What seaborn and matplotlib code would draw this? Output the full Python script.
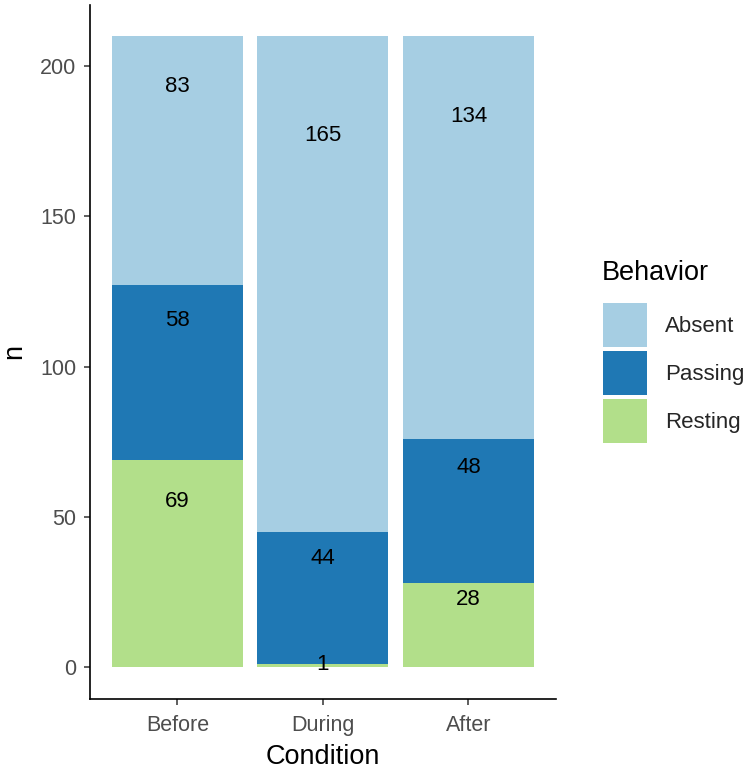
import matplotlib

matplotlib.use("Agg")
import matplotlib.pyplot as plt
import numpy as np
import pandas as pd
import seaborn as sns
from matplotlib.patches import Patch

# ---- data ----
conditions = ["Before", "During", "After"]
behaviors = ["Absent", "Passing", "Resting"]
absent_n = [83, 165, 134]
passing_n = [58, 44, 48]
resting_n = [69, 1, 28]
colors = ["#A6CEE3", "#1F78B4", "#B2DF8A"]

df = pd.DataFrame(
    {
        "Condition": conditions * 3,
        "Behavior": np.repeat(behaviors, 3),
        "n": absent_n + passing_n + resting_n,
    }
)

# stack order bottom -> top: Resting, Passing, Absent
stack_order = ["Resting", "Passing", "Absent"]
wide = df.pivot(index="Condition", columns="Behavior", values="n").loc[conditions]
bottoms = wide[stack_order].cumsum(axis=1) - wide[stack_order]
tops = wide[stack_order].cumsum(axis=1)

sns.set_style("ticks")
plt.rcParams["font.family"] = ["Liberation Sans", "DejaVu Sans"]

fig = plt.figure(figsize=(7.5, 7.71), dpi=100)
ax = fig.add_axes([0.12, 0.094, 0.621, 0.9])

# draw cumulative heights from the top layer down so each bar covers the one below
for beh in stack_order[::-1]:
    sns.barplot(
        x=conditions,
        y=tops[beh].values,
        color=colors[behaviors.index(beh)],
        width=0.9,
        saturation=1,
        ax=ax,
        linewidth=0,
    )

# labels at 80% of each segment (position_stack(vjust = 0.8))
for i, cond in enumerate(conditions):
    for beh in stack_order:
        n = wide.loc[cond, beh]
        y = bottoms.loc[cond, beh] + 0.8 * n
        ax.text(i, y, str(n), ha="center", va="center", fontsize=16, color="black")

ax.set_xlim(-0.6, 2.6)
ax.set_ylim(-10.5, 220.5)
ax.set_yticks([0, 50, 100, 150, 200])
ax.tick_params(axis="both", labelsize=15.5, labelcolor="#4D4D4D",
               color="#333333", length=4.5, width=1.1)
ax.tick_params(axis="x", pad=7.5)
ax.tick_params(axis="y", pad=5.5)
for s in ["top", "right"]:
    ax.spines[s].set_visible(False)
for s in ["left", "bottom"]:
    ax.spines[s].set_color("black")
    ax.spines[s].set_linewidth(1.2)
ax.set_xlabel("Condition", fontsize=19.5, color="black", labelpad=5.5)
ax.set_ylabel("n", fontsize=19.5, color="black", labelpad=9)

# legend: title placed separately, keys as 44px squares with small gaps
fig.text(602 / 750, 1 - 273 / 771, "Behavior", fontsize=19.5, color="black",
         ha="left", va="center")
handles = [Patch(facecolor=c, edgecolor="none") for c in colors]
leg = fig.legend(
    handles,
    behaviors,
    loc="upper left",
    bbox_to_anchor=(603 / 750, 1 - 303 / 771),
    frameon=False,
    fontsize=16,
    handlelength=1.98,
    handleheight=2.67,
    labelspacing=0.18,
    handletextpad=0.81,
    borderaxespad=0,
    borderpad=0,
)

fig.savefig("out.png", dpi=100)
